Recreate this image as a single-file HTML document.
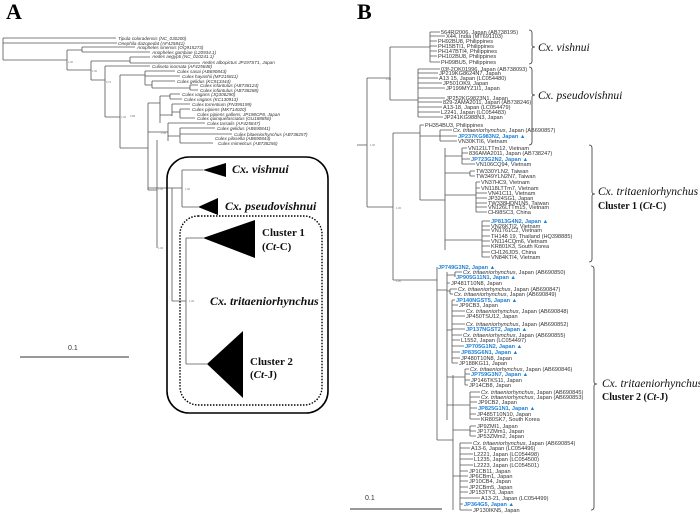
<!DOCTYPE html>
<html><head><meta charset="utf-8"><style>
html,body{margin:0;padding:0;background:#fff;}
svg{display:block;}
.l{font-family:"Liberation Sans",sans-serif;font-size:5.6px;fill:#333;}
.b{font-family:"Liberation Sans",sans-serif;font-size:5.6px;fill:#1f7fd6;font-weight:bold;}
.a{font-family:"Liberation Sans",sans-serif;font-size:4.6px;fill:#333;font-style:italic;}
.s{font-family:"Liberation Sans",sans-serif;font-size:2.6px;fill:#777;}
.big{font-family:"Liberation Serif",serif;font-weight:bold;font-size:22px;fill:#000;}
.sp{font-family:"Liberation Serif",serif;font-weight:bold;font-style:italic;font-size:12px;fill:#111;}
.spb{font-family:"Liberation Serif",serif;font-style:italic;font-size:11.5px;fill:#111;}
.cl{font-family:"Liberation Serif",serif;font-weight:bold;font-size:11px;fill:#111;}
.t line,.t path{stroke:#555;stroke-width:0.8;fill:none;}
</style></head><body>
<svg width="700" height="514" viewBox="0 0 700 514" xmlns="http://www.w3.org/2000/svg">
<text class="big" x="6" y="19">A</text>
<text class="big" x="357" y="19">B</text>

<!-- PANEL A tree -->
<g class="t">
<path d="M3 38V60 M3 38H116 M3 43H117 M3 60H67 M67 50V70 M67 50H82 M82 47V52 M82 47H135 M82 52H150 M67 70H91 M91 61V80 M91 61H130 M130 57V63 M130 57H150 M130 63H200 M91 80H105 M105 66V117 M105 66H150 M105 117H120 M120 75V148 M120 75H145 M145 71V85 M145 71H175 M145 76H180 M145 85H152 M152 81V88 M152 81H175 M152 88H190 M190 85V90 M190 85H198 M190 90H198 M120 148H148 M148 103V190 M148 103H160 M160 96V123 M160 96H170 M170 94V99 M170 94H180 M170 99H182 M160 115H172 M172 104V116 M172 104H190 M172 112H180 M180 109V118 M180 109H190 M180 118H195 M148 132H168 M168 123V141 M168 123H205 M168 136H180 M180 128V143 M180 128H215 M180 134H232 M180 143H213 M148 190H157 M157 140V248 M148 188H172 M172 188V301 M172 188H182 M182 170V207 M182 170H203 M182 207H198 M172 301H186 M186 238V364 M186 238H203 M186 364H207"/>
</g>
<g>
<text class="a" x="118" y="40">Tipula coloradensis (NC_030200)</text>
<text class="a" x="118" y="45">Onephila dazopedat (AF425841)</text>
<text class="a" x="137" y="49">Anopheles sinensis (OQ915273)</text>
<text class="a" x="152" y="54">Anopheles gambiae (L20934.1)</text>
<text class="a" x="152" y="58">Aedes aegypti (NC_010241.1)</text>
<text class="a" x="202" y="64">Aedes albopictus JP197ST1, Japan</text>
<text class="a" x="152" y="68">Culiseta inornata (AF425848)</text>
<text class="a" x="177" y="73">Culex sasai (AB690843)</text>
<text class="a" x="182" y="78">Culex hayashii (MF215811)</text>
<text class="a" x="177" y="83">Culex gelidus (KC913444)</text>
<text class="a" x="200" y="87">Culex infantulus (AB738124)</text>
<text class="a" x="200" y="92">Culex infantulus (AB738288)</text>
<text class="a" x="182" y="96">Culex vagans (JQ306290)</text>
<text class="a" x="184" y="101">Culex vagans (KC130913)</text>
<text class="a" x="192" y="106">Culex torrentium (FN395199)</text>
<text class="a" x="192" y="111">Culex pipiens (MK714020)</text>
<text class="a" x="197" y="116">Culex pipiens pallens, JP198CP8, Japan</text>
<text class="a" x="197" y="120">Culex quinquefasciatus (GU188856)</text>
<text class="a" x="207" y="125">Culex tarsalis (AF425847)</text>
<text class="a" x="217" y="130">Culex gelidus (AB690841)</text>
<text class="a" x="234" y="136">Culex bitaeniorhynchus (AB738257)</text>
<text class="a" x="215" y="140">Culex pilosella (AB690844)</text>
<text class="a" x="218" y="145">Culex mimeticus (AB738256)</text>
<text class="s" x="68" y="63">1.00</text><text class="s" x="92" y="72">1.00</text><text class="s" x="106" y="83">0.73</text>
<text class="s" x="121" y="118">1.00</text><text class="s" x="130" y="117">0.98</text><text class="s" x="161" y="134">1.00</text>
<text class="s" x="158" y="190">1.00</text><text class="s" x="185" y="190">1.00</text><text class="s" x="158" y="249">1.00</text><text class="s" x="189" y="302">1.00</text>
</g>
<rect x="167" y="157" width="161" height="256" rx="22" fill="none" stroke="#000" stroke-width="1.6"/>
<rect x="180" y="216" width="142" height="189" rx="18" fill="none" stroke="#000" stroke-width="1.4" stroke-dasharray="1.5,1.5"/>
<polygon points="203,170 226,163 226,177" fill="#000"/>
<polygon points="198,207 218,198 218,215" fill="#000"/>
<polygon points="203,238 255,220 255,258" fill="#000"/>
<polygon points="207,364 243,331 243,398" fill="#000"/>
<text class="sp" x="232" y="173">Cx. vishnui</text>
<text class="sp" x="225" y="210">Cx. pseudovishnui</text>
<text class="cl" x="262" y="236">Cluster 1</text>
<text class="cl" x="262" y="250">(<tspan font-style="italic">Ct</tspan>-C)</text>
<text class="sp" x="210" y="305">Cx. tritaeniorhynchus</text>
<text class="cl" x="250" y="365">Cluster 2</text>
<text class="cl" x="250" y="378">(<tspan font-style="italic">Ct</tspan>-J)</text>
<line x1="20" y1="357" x2="129" y2="357" stroke="#333" stroke-width="1"/>
<text class="l" x="68" y="350" style="font-size:7px">0.1</text>

<!-- PANEL B tree -->
<g class="t">
<path d="M357 145H367 M367 78V207 M367 78H390 M390 47V100 M390 47H430 M430 32V62 M390 100H418 M418 69V117 M367 207H393 M393 133V280 M393 133H420 M420 125V200 M420 136H440 M440 130V141 M420 200H445 M445 148V250 M445 156H462 M462 148V164 M445 173H470 M470 171V176 M445 195H476 M476 182V212 M445 240H482 M482 221V257 M393 280H437 M437 267V300 M437 290H447 M447 272V420 M447 275H455 M455 272V277 M447 291H450 M450 289V294 M447 330H452 M452 300V363 M447 377H465 M465 369V385 M447 405H470 M470 392V419 M437 300V440 M437 440H453 M453 375V510 M453 430H470 M470 426V436 M453 476H460 M460 443V510"/>
<path d="M430 32H440 M430 36H445 M430 41H437 M430 46H437 M430 51H437 M430 56H437 M430 62H440 M418 69H440 M418 73H438 M418 78H438 M418 83H442 M418 88H445 M418 98H445 M418 102H442 M418 107H442 M418 112H440 M418 117H443 M420 125H424 M440 130H452 M440 136H457 M440 141H457 M462 148H467 M462 153H468 M462 159H470 M462 164H475 M470 171H475 M470 176H475 M476 182H480 M476 188H480 M476 193H487 M476 198H487 M476 203H487 M476 207H487 M476 212H487 M482 221H490 M482 226H490 M482 230H490 M482 236H490 M482 241H490 M482 246H490 M482 252H490 M482 257H490 M455 272H462 M447 283H450 M450 289H457 M450 294H453 M452 300H455 M452 305H458 M452 311H465 M452 316H465 M452 324H465 M452 329H465 M452 335H462 M452 340H460 M452 346H464 M452 352H460 M452 358H460 M452 363H458 M465 369H469 M465 374H470 M465 380H470 M465 385H468 M470 392H480 M470 397H480 M470 402H477 M470 408H477 M470 414H476 M470 419H480 M470 426H476 M470 431H476 M470 436H476 M460 443H472 M460 448H470 M460 454H473 M460 459H473 M460 465H473 M460 471H468 M460 476H468 M460 481H468 M460 487H468 M460 492H468 M460 498H480 M460 504H463 M460 510H472"/>
</g>
<g>
<text class="l" x="441" y="34">564RI2006,  Japan  (AB738195)</text>
<text class="l" x="446" y="38">X44,  India  (MT691103)</text>
<text class="l" x="438" y="43">PH92BU8,  Philippines</text>
<text class="l" x="438" y="48">PH15BTI1,  Philippines</text>
<text class="l" x="438" y="53">PH147BTI4,  Philippines</text>
<text class="l" x="438" y="58">PH102BU8,  Philippines</text>
<text class="l" x="441" y="64">PH99BU5,  Philippines</text>
<text class="l" x="441" y="71">03f-2OK01996,  Japan  (AB738093)</text>
<text class="l" x="439" y="75">JP219KG8624N7,  Japan</text>
<text class="l" x="439" y="80">A13 15,  Japan  (LC054480)</text>
<text class="l" x="443" y="85">JP501OK9,  Japan</text>
<text class="l" x="446" y="90">JP199MYZ1I1,  Japan</text>
<text class="l" x="446" y="100">JP252KG9823N1,  Japan</text>
<text class="l" x="443" y="104">829-2AMA2011,  Japan  (AB738246)</text>
<text class="l" x="443" y="109">A13-18,  Japan  (LC054479)</text>
<text class="l" x="441" y="114">L2241,  Japan  (LC054483)</text>
<text class="l" x="444" y="119">JP241KG988N3,  Japan</text>
<text class="l" x="425" y="127">PH354BU3,  Philippines</text>
<text class="l" x="453" y="132"><tspan font-style="italic">Cx. tritaeniorhynchus</tspan>,  Japan  (AB690857)</text>
<text class="b" x="458" y="138">JP237KG983N2,  Japan  ▲</text>
<text class="l" x="458" y="143">VN30KTI6,  Vietnam</text>
<text class="l" x="468" y="150">VN121LTTm12,  Vietnam</text>
<text class="l" x="469" y="155">836AMA2011,  Japan  (AB738247)</text>
<text class="b" x="471" y="161">JP723G2N2,  Japan  ▲</text>
<text class="l" x="476" y="166">VN106CQ94,  Vietnam</text>
<text class="l" x="476" y="173">TW330YLN2,  Taiwan</text>
<text class="l" x="476" y="178">TW349YLN2N7,  Taiwan</text>
<text class="l" x="481" y="184">VN37HC9,  Vietnam</text>
<text class="l" x="481" y="190">VN118LTTm7,  Vietnam</text>
<text class="l" x="488" y="195">VN41C11,  Vietnam</text>
<text class="l" x="488" y="200">JP324SG1,  Japan</text>
<text class="l" x="488" y="205">TW338HDN1N5,  Taiwan</text>
<text class="l" x="488" y="209">VN126LTTm15,  Vietnam</text>
<text class="l" x="488" y="214">CH98SC3,  China</text>
<text class="b" x="491" y="223">JP813G4N2,  Japan  ▲</text>
<text class="l" x="491" y="228">VN26KTI2,  Vietnam</text>
<text class="l" x="491" y="232">VN1761C2,  Vietnam</text>
<text class="l" x="491" y="238">TH148 19,  Thailand  (HQ398885)</text>
<text class="l" x="491" y="243">VN114CQm6,  Vietnam</text>
<text class="l" x="491" y="248">KR801K3,  South Korea</text>
<text class="l" x="491" y="254">CH126JD5,  China</text>
<text class="l" x="491" y="259">VN84KTI4,  Vietnam</text>
<text class="b" x="438" y="269">JP749G3N2,  Japan  ▲</text>
<text class="l" x="463" y="274"><tspan font-style="italic">Cx. tritaeniorhynchus</tspan>,  Japan  (AB690850)</text>
<text class="b" x="456" y="279">JP905G11N1,  Japan  ▲</text>
<text class="l" x="451" y="285">JP481T10N8,  Japan</text>
<text class="l" x="458" y="291"><tspan font-style="italic">Cx. tritaeniorhynchus</tspan>,  Japan  (AB690847)</text>
<text class="l" x="454" y="296"><tspan font-style="italic">Cx. tritaeniorhynchus</tspan>,  Japan  (AB690849)</text>
<text class="b" x="456" y="302">JP140NGST5,  Japan  ▲</text>
<text class="l" x="459" y="307">JP9CB3,  Japan</text>
<text class="l" x="466" y="313"><tspan font-style="italic">Cx. tritaeniorhynchus</tspan>,  Japan  (AB690848)</text>
<text class="l" x="466" y="318">JP450TSU12,  Japan</text>
<text class="l" x="466" y="326"><tspan font-style="italic">Cx. tritaeniorhynchus</tspan>,  Japan  (AB690852)</text>
<text class="b" x="466" y="331">JP137NGST2,  Japan  ▲</text>
<text class="l" x="463" y="337"><tspan font-style="italic">Cx. tritaeniorhynchus</tspan>,  Japan  (AB690855)</text>
<text class="l" x="461" y="342">L1552,  Japan  (LC054497)</text>
<text class="b" x="465" y="348">JP705G1N2,  Japan  ▲</text>
<text class="b" x="461" y="354">JP835G6N1,  Japan  ▲</text>
<text class="l" x="461" y="360">JP480T10N8,  Japan</text>
<text class="l" x="459" y="365">JP188KG11,  Japan</text>
<text class="l" x="470" y="371"><tspan font-style="italic">Cx. tritaeniorhynchus</tspan>,  Japan  (AB690846)</text>
<text class="b" x="471" y="376">JP759G3N7,  Japan  ▲</text>
<text class="l" x="471" y="382">JP146TKS11,  Japan</text>
<text class="l" x="469" y="387">JP14CB8,  Japan</text>
<text class="l" x="481" y="394"><tspan font-style="italic">Cx. tritaeniorhynchus</tspan>,  Japan  (AB690845)</text>
<text class="l" x="481" y="399"><tspan font-style="italic">Cx. tritaeniorhynchus</tspan>,  Japan  (AB690853)</text>
<text class="l" x="478" y="404">JP9CB2,  Japan</text>
<text class="b" x="478" y="410">JP825G1N1,  Japan  ▲</text>
<text class="l" x="477" y="416">JP485T10N10,  Japan</text>
<text class="l" x="481" y="421">KR80SK7,  South Korea</text>
<text class="l" x="477" y="428">JP9ZMI1,  Japan</text>
<text class="l" x="477" y="433">JP17ZMm1,  Japan</text>
<text class="l" x="477" y="438">JP53ZMm2,  Japan</text>
<text class="l" x="473" y="445"><tspan font-style="italic">Cx. tritaeniorhynchus</tspan>,  Japan  (AB690854)</text>
<text class="l" x="471" y="450">A13-6,  Japan  (LC054496)</text>
<text class="l" x="474" y="456">L2221,  Japan  (LC054498)</text>
<text class="l" x="474" y="461">L1235,  Japan  (LC054500)</text>
<text class="l" x="474" y="467">L2223,  Japan  (LC054501)</text>
<text class="l" x="469" y="473">JP1CB11,  Japan</text>
<text class="l" x="469" y="478">JP6CBm1,  Japan</text>
<text class="l" x="469" y="483">JP10CB4,  Japan</text>
<text class="l" x="469" y="489">JP2CBm5,  Japan</text>
<text class="l" x="469" y="494">JP153TY3,  Japan</text>
<text class="l" x="481" y="500">A13-21,  Japan  (LC054499)</text>
<text class="b" x="464" y="506">JP364G5,  Japan  ▲</text>
<text class="l" x="473" y="512">JP130IKN5,  Japan</text>
<text class="s" x="370" y="146">1.00</text><text class="s" x="386" y="80">1.00</text><text class="s" x="396" y="209">1.00</text><text class="s" x="396" y="282">1.00</text>
</g>
<!-- brackets -->
<g fill="none" stroke="#333" stroke-width="0.8">
<path d="M529 30q3 0 3 3v12q0 2 3 2q-3 0 -3 2v12q0 3 -3 3"/>
<path d="M529 67q3 0 3 3v23q0 2 3 2q-3 0 -3 2v45q0 3 -3 3"/>
<path d="M589 145q3 0 3 3v44q0 2 3 2q-3 0 -3 2v63q0 3 -3 3"/>
<path d="M591 266q3 0 3 3v113q0 2 3 2q-3 0 -3 2v121q0 3 -3 3"/>
</g>
<text class="spb" x="538" y="51">Cx. vishnui</text>
<text class="spb" x="538" y="99">Cx. pseudovishnui</text>
<text class="spb" x="598" y="195">Cx. tritaeniorhynchus</text>
<text class="cl" x="598" y="209" style="font-size:10px">Cluster 1 (<tspan font-style="italic">Ct</tspan>-C)</text>
<text class="spb" x="602" y="387">Cx. tritaeniorhynchus</text>
<text class="cl" x="602" y="400" style="font-size:10px">Cluster 2 (<tspan font-style="italic">Ct</tspan>-J)</text>
<line x1="350" y1="509" x2="442" y2="509" stroke="#333" stroke-width="1"/>
<text class="l" x="365" y="500" style="font-size:7px">0.1</text>
</svg>
</body></html>
